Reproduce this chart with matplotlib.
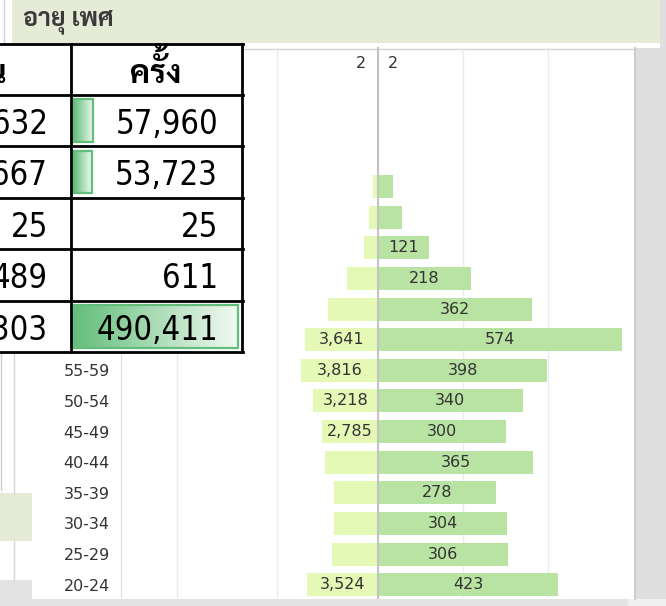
import numpy as np
import matplotlib
matplotlib.use("Agg")
import matplotlib.pyplot as plt
from matplotlib import font_manager
from matplotlib.font_manager import FontProperties
from matplotlib.patches import Rectangle

W, H = 666, 606

# age pyramid, top row first
ages = ["105+", "100-104", "95-99", "90-94", "85-89", "80-84", "75-79", "70-74",
        "65-69", "60-64", "55-59", "50-54", "45-49", "40-44", "35-39", "30-34",
        "25-29", "20-24"]
left_vals = [2, 0, 0, 60, 234, 432, 696, 1541, 2470, 3641, 3816, 3218, 2785,
             2654, 2192, 2190, 2276, 3524]
right_vals = [2, 0, 0, 0, 36, 57, 121, 218, 362, 574, 398, 340, 300, 365,
              278, 304, 306, 423]

# summary table laid over the chart
col_headers = ["คน", "ครั้ง"]
people = ["8,632", "7,667", "25", "489", "15,303"]
visits = [57960, 53723, 25, 611, 490411]

title = "อายุ เพศ"

LEFT_C = "#e4f9b6"
RIGHT_C = "#b8e3a2"
BAR_GREEN = "#63be7b"
TXT = "#333333"

# fonts
names = {f.name for f in font_manager.fontManager.ttflist}
thai_font = next((n for n in ["Sarabun", "Noto Sans Thai Looped", "Noto Sans Thai",
                              "Anuphan", "Athiti"] if n in names), "DejaVu Sans")
THAI = [thai_font, "DejaVu Sans"]
cond = [f.fname for f in font_manager.fontManager.ttflist
        if f.fname.endswith("DejaVuSansCondensed.ttf")]
if cond:
    num_fp = FontProperties(fname=cond[0], size=23.5)
else:
    num_fp = FontProperties(family="Liberation Sans", size=24)

fig = plt.figure(figsize=(W / 100, H / 100), dpi=100)

# background of the dashboard
bg = fig.add_axes([0, 0, 1, 1], zorder=0)
bg.set_xlim(0, W)
bg.set_ylim(H, 0)
bg.axis("off")


def box(ax, x0, y0, x1, y1, color, **kw):
    ax.add_patch(Rectangle((x0, y0), x1 - x0, y1 - y0, facecolor=color,
                           edgecolor="none", **kw))


box(bg, 636, 48, W, 599, "#dfdfdf")
box(bg, 660, 0, W, 48, "#dfdfdf")
box(bg, 12, 0, 660, 43, "#e6ebd8")
box(bg, 0, 599, 628, H, "#e3e3e3")
box(bg, 628, 599, W, H, "#f0f0f0")
box(bg, 0, 580, 32, 599, "#e3e3e3")
box(bg, 0, 493, 32, 541, "#e6ebd8")
bg.plot([32, 636], [48.5, 48.5], color="#d4d4d4", lw=1)
bg.plot([635, 635], [48, 599], color="#cdcdcd", lw=1.5)
bg.plot([14, 14], [352, 493], color="#d6d6d6", lw=1)
bg.plot([14, 14], [541, 580], color="#d6d6d6", lw=1)
bg.plot([1, 1], [352, 490], color="#cccccc", lw=1)
bg.plot([4, 4], [0, 43], color="#d0d0d0", lw=1)
bg.text(23, 22, title, family=THAI, fontsize=18, fontweight="bold",
        color="#3a3a3a", ha="left", va="center")

# pyramid: two axes meeting at the centre line
pos = np.arange(len(ages))
top, bot = 48, 598
pitch = 30.63
ylim = (-(64 - top) / pitch + (bot - top) / pitch, -(64 - top) / pitch)
rect_y = (H - bot) / H
rect_h = (bot - top) / H
axL = fig.add_axes([121 / W, rect_y, (378 - 121) / W, rect_h], zorder=1)
axR = fig.add_axes([378 / W, rect_y, (634 - 378) / W, rect_h], zorder=1)

axL.barh(pos, left_vals, height=0.75, color=LEFT_C)
axR.barh(pos, right_vals, height=0.75, color=RIGHT_C)
axL.set_xlim(12780, 0)
axR.set_xlim(0, 602)
for ax, ticks in ((axL, [5000, 10000]), (axR, [200, 400])):
    ax.set_ylim(*ylim)
    ax.set_xticks(ticks)
    ax.xaxis.grid(True, color="#ebebeb", lw=1)
    ax.set_axisbelow(True)
    ax.tick_params(axis="x", length=0, labelbottom=False)
    for s in ax.spines.values():
        s.set_visible(False)
    ax.patch.set_alpha(0)

axL.set_yticks(pos, ages)
axL.tick_params(axis="y", length=0, pad=8, labelsize=11.5, labelcolor=TXT)
axL.spines["left"].set_visible(True)
axL.spines["left"].set_color("#dddddd")
axR.set_yticks([])
axR.spines["left"].set_visible(True)
axR.spines["left"].set_color("#c3c3c3")
axR.spines["left"].set_linewidth(1.5)

for i, v in enumerate(left_vals):
    if v >= 2700:
        axL.text(v / 2, i, f"{v:,}", ha="center", va="center", fontsize=11.5, color=TXT)
    elif 0 < v < 10:
        axL.annotate(f"{v:,}", (0, i), xytext=(-12, 0), textcoords="offset pixels",
                     ha="right", va="center", fontsize=11.5, color=TXT)
for i, v in enumerate(right_vals):
    if v >= 100:
        axR.text(v / 2, i, f"{v:,}", ha="center", va="center", fontsize=11.5, color=TXT)
    elif 0 < v < 10:
        axR.annotate(f"{v:,}", (0, i), xytext=(10, 0), textcoords="offset pixels",
                     ha="left", va="center", fontsize=11.5, color=TXT)

# table overlay
tb = fig.add_axes([0, 0, 1, 1], zorder=3)
tb.set_xlim(0, W)
tb.set_ylim(H, 0)
tb.axis("off")
tb.patch.set_alpha(0)

row_y = [44, 94.5, 146, 197.5, 249.3, 300.7, 352.3]
col_x = [-100, 71, 241.5]
box(tb, -100, row_y[0], col_x[2], row_y[-1], "white")

grad = np.linspace(0, 1, 256)[None, :, None]
g0 = np.array(matplotlib.colors.to_rgb(BAR_GREEN))
g1 = np.array([0.95, 0.98, 0.95])
grad_img = g0 * (1 - grad) + g1 * grad
inner0, inner1 = 74, 238
vmax = max(visits)
for r, v in enumerate(visits):
    y0, y1 = row_y[r + 1] + 4.5, row_y[r + 2] - 4.5
    w = v / vmax * (inner1 - inner0)
    if w < 1:
        continue
    tb.imshow(grad_img, extent=(inner0, inner0 + w, y1, y0), aspect="auto",
              interpolation="bilinear", zorder=1)
    tb.add_patch(Rectangle((inner0, y0), w, y1 - y0, facecolor="none",
                           edgecolor=BAR_GREEN, lw=1.6, zorder=2))

for y in row_y:
    tb.plot([-5, col_x[2] + 1], [y, y], color="black", lw=2.0, zorder=4,
            solid_capstyle="projecting")
for x in col_x[1:]:
    tb.plot([x, x], [row_y[0], row_y[-1]], color="black", lw=2.0, zorder=4,
            solid_capstyle="projecting")
tb.set_xlim(0, W)
tb.set_ylim(H, 0)

hdr_base = 83
hdr_kw = dict(family=THAI, fontsize=23, fontweight="bold", va="baseline",
              color="black", zorder=5)
tb.text(-14, hdr_base, col_headers[0], ha="center", **hdr_kw)

# matplotlib does not stack Thai marks, so the tone mark of the second
# header is set as its own text just above the vowel mark
TONE = "\u0e49"
h2 = col_headers[1]
k = h2.index(TONE)
t_base = tb.text(156, hdr_base, h2.replace(TONE, ""), ha="center", **hdr_kw)
rend = fig.canvas.get_renderer()
x_left = tb.transData.inverted().transform(t_base.get_window_extent(rend).p0)[0]
t_pre = tb.text(x_left, hdr_base, h2[:k - 1], ha="left", alpha=0, **hdr_kw)
x_mark = tb.transData.inverted().transform(t_pre.get_window_extent(rend).p1)[0]
t_pre.remove()
tb.text(x_mark + 1, hdr_base - 9, TONE, ha="right", **hdr_kw)

for r in range(len(visits)):
    yc = (row_y[r + 1] + row_y[r + 2]) / 2 + 13.5
    tb.text(48, yc, people[r], fontproperties=num_fp, ha="right", va="baseline",
            color="black", zorder=5)
    tb.text(218, yc, f"{visits[r]:,}", fontproperties=num_fp, ha="right",
            va="baseline", color="black", zorder=5)

fig.savefig("out.png", dpi=100)
